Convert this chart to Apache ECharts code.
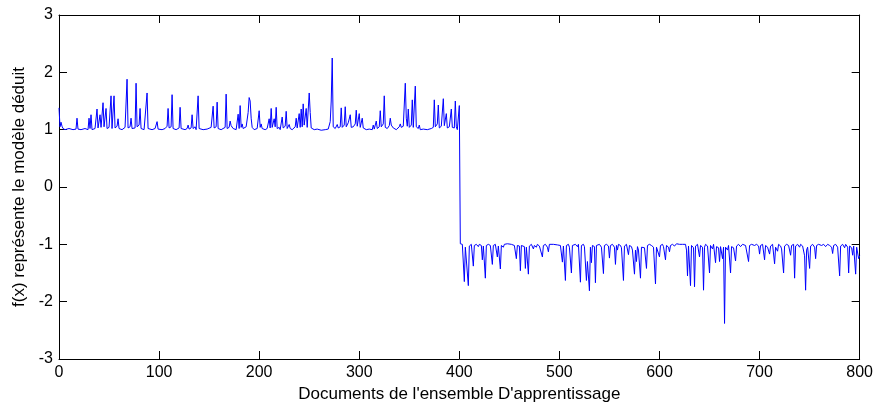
<!DOCTYPE html>
<html>
<head>
<meta charset="utf-8">
<script src="https://cdn.jsdelivr.net/npm/echarts@6/dist/echarts.min.js"></script>
<style>
html,body{margin:0;padding:0;background:#fff;}
#chart{width:876px;height:408px;}
</style>
</head>
<body>
<div id="chart"></div>
<script>
// Axis ticks
var xTicks = [0, 100, 200, 300, 400, 500, 600, 700, 800];
var yTicks = [-3, -2, -1, 0, 1, 2, 3];
var xTitle = "Documents de l'ensemble D'apprentissage";
var yTitle = "f(x) représente le modèle déduit";

// f(x) for documents 0..400 (class +1), as [document, value]
var upperPoints = [
[0,1.38],[1,1.05],[2,1.13],[3,1.06],[4,1.02],[6,1.0],[10,1.02],[14,1.0],[17,1.01],[18,1.2],[19,1.01],[22,1.0],[26,1.02],[29,1.0],[30,1.2],[31,1.02],[32,1.26],[33,1.0],[36,1.02],[38,1.36],[39,1.03],[40,1.05],[41,1.26],[42,1.04],[44,1.47],[45,1.05],[47,1.37],[48,1.02],[50,1.04],[52,1.59],[53,1.02],[55,1.59],[56,1.03],[58,1.06],[59,1.19],[60,1.02],[63,1.0],[66,1.04],[68,1.88],[69,1.03],[71,1.05],[72,1.2],[73,1.02],[76,1.03],[77,1.81],[78,1.05],[80,1.08],[81,1.37],[82,1.02],[85,1.0],[88,1.64],[89,1.02],[93,1.0],[96,1.02],[98,1.14],[99,1.01],[103,1.0],[106,1.02],[108,1.06],[109,1.37],[110,1.03],[112,1.05],[113,1.61],[114,1.02],[117,1.0],[120,1.03],[121,1.39],[122,1.02],[126,1.0],[128,1.02],[129,1.08],[130,1.01],[132,1.03],[133,1.26],[134,1.02],[136,1.05],[137,1.0],[139,1.59],[140,1.02],[144,1.0],[148,1.01],[152,1.04],[154,1.41],[155,1.03],[157,1.05],[158,1.48],[159,1.02],[162,1.0],[166,1.04],[167,1.62],[168,1.02],[170,1.04],[171,1.15],[172,1.07],[173,1.1],[174,1.02],[177,1.0],[179,1.27],[180,1.02],[181,1.42],[182,1.04],[183,1.1],[184,1.02],[187,1.05],[189,1.3],[190,1.56],[191,1.5],[192,1.2],[193,1.04],[195,1.0],[198,1.02],[200,1.33],[201,1.04],[202,1.1],[203,1.02],[206,1.0],[208,1.02],[210,1.19],[211,1.03],[212,1.37],[213,1.04],[215,1.19],[216,1.05],[217,1.39],[218,1.02],[220,1.04],[221,1.0],[223,1.22],[224,1.03],[226,1.06],[227,1.32],[228,1.02],[230,1.09],[231,1.02],[233,1.0],[236,1.05],[237,1.2],[238,1.03],[240,1.28],[241,1.04],[242,1.36],[243,1.05],[244,1.45],[245,1.08],[247,1.37],[248,1.04],[250,1.64],[251,1.3],[252,1.03],[255,1.0],[258,1.01],[262,0.99],[266,1.0],[269,1.01],[271,1.14],[272,1.5],[273,2.25],[274,1.05],[276,1.02],[278,1.09],[279,1.03],[281,1.05],[282,1.38],[283,1.04],[285,1.08],[286,1.4],[287,1.05],[289,1.12],[290,1.15],[291,1.26],[292,1.04],[294,1.05],[296,1.1],[297,1.34],[298,1.06],[300,1.28],[301,1.04],[303,1.2],[304,1.03],[307,1.0],[310,1.01],[313,1.0],[314,1.08],[315,1.01],[317,1.15],[318,1.02],[320,1.05],[321,1.33],[322,1.05],[324,1.1],[325,1.59],[326,1.04],[328,1.02],[330,1.07],[331,1.2],[332,1.08],[334,1.03],[337,1.0],[340,1.05],[341,1.1],[342,1.04],[344,1.06],[346,1.81],[347,1.2],[348,1.06],[349,1.36],[350,1.04],[352,1.08],[353,1.52],[354,1.04],[356,1.76],[357,1.05],[359,1.02],[360,1.08],[361,1.0],[364,1.01],[368,1.0],[372,1.02],[374,1.04],[375,1.52],[376,1.05],[378,1.1],[379,1.43],[380,1.03],[382,1.06],[384,1.54],[385,1.07],[387,1.28],[388,1.03],[390,1.05],[392,1.36],[393,1.04],[395,1.03],[396,1.5],[397,1.05],[398,1.0],[399,1.0],[400,1.42]
];

// f(x) for documents 401..800 (class -1), as [document, value]
var lowerPoints = [
[401,-0.99],[403,-1.0],[404,-1.02],[405,-1.65],[406,-1.05],[407,-1.02],[409,-1.72],[410,-1.03],[412,-1.0],[414,-1.38],[415,-1.02],[417,-1.0],[419,-1.04],[420,-1.0],[422,-1.02],[423,-1.27],[424,-1.03],[426,-1.59],[427,-1.02],[429,-1.0],[431,-1.02],[433,-1.35],[434,-1.02],[436,-1.0],[438,-1.22],[439,-1.03],[441,-1.43],[442,-1.02],[444,-1.05],[445,-1.0],[448,-0.99],[452,-1.0],[455,-1.02],[457,-1.25],[458,-1.02],[460,-1.03],[461,-1.46],[462,-1.02],[465,-1.04],[466,-1.42],[467,-1.05],[469,-1.52],[470,-1.03],[472,-1.0],[474,-1.08],[475,-1.02],[477,-1.05],[478,-1.0],[480,-1.03],[481,-1.05],[483,-1.22],[484,-1.02],[486,-1.0],[488,-1.05],[489,-1.13],[490,-1.0],[494,-1.0],[498,-1.01],[501,-1.02],[503,-1.31],[504,-1.03],[506,-1.63],[507,-1.02],[509,-1.0],[510,-1.05],[512,-1.5],[513,-1.02],[516,-1.0],[518,-1.04],[519,-1.0],[521,-1.66],[522,-1.02],[524,-1.0],[525,-1.04],[527,-1.63],[528,-1.3],[530,-1.81],[531,-1.05],[532,-1.32],[533,-1.02],[535,-1.04],[536,-1.67],[537,-1.02],[540,-1.0],[542,-1.05],[544,-1.51],[545,-1.02],[547,-1.0],[549,-1.03],[550,-1.24],[551,-1.02],[553,-1.0],[555,-1.05],[556,-1.35],[557,-1.02],[558,-1.1],[559,-1.0],[561,-1.02],[562,-1.06],[564,-1.63],[565,-1.03],[566,-1.05],[567,-1.0],[569,-1.18],[570,-1.02],[572,-1.04],[573,-1.1],[575,-1.52],[576,-1.1],[577,-1.3],[578,-1.04],[579,-1.1],[581,-1.59],[582,-1.05],[583,-1.02],[585,-1.06],[587,-1.42],[588,-1.02],[590,-1.0],[592,-1.02],[594,-1.05],[596,-1.69],[597,-1.05],[598,-1.02],[600,-1.22],[601,-1.02],[603,-1.0],[604,-1.04],[606,-1.27],[607,-1.02],[609,-1.05],[610,-1.13],[611,-1.02],[613,-1.0],[615,-1.03],[617,-0.99],[620,-1.0],[623,-1.0],[626,-1.0],[627,-1.1],[628,-1.55],[629,-1.03],[630,-1.05],[631,-1.72],[632,-1.02],[634,-1.06],[635,-1.74],[636,-1.03],[638,-1.0],[640,-1.22],[641,-1.02],[643,-1.05],[644,-1.8],[645,-1.05],[646,-1.0],[648,-1.03],[650,-1.5],[651,-1.02],[653,-1.08],[654,-1.0],[656,-1.32],[657,-1.04],[659,-1.06],[660,-1.3],[661,-1.04],[663,-1.25],[664,-1.05],[665,-2.38],[666,-1.05],[668,-1.1],[669,-1.02],[671,-1.5],[672,-1.04],[674,-1.06],[676,-1.29],[677,-1.03],[679,-1.0],[681,-1.04],[683,-1.0],[686,-1.02],[689,-1.3],[690,-1.02],[692,-1.0],[695,-1.02],[697,-1.0],[699,-1.03],[700,-1.17],[701,-1.02],[703,-1.0],[705,-1.27],[706,-1.02],[708,-1.05],[710,-1.17],[711,-1.03],[713,-1.0],[715,-1.34],[716,-1.05],[718,-1.12],[719,-1.0],[721,-1.03],[722,-1.08],[724,-1.5],[725,-1.03],[727,-1.0],[729,-1.02],[731,-1.19],[732,-1.02],[734,-1.0],[735,-1.59],[736,-1.03],[738,-1.0],[740,-1.05],[741,-1.0],[743,-1.03],[745,-1.2],[746,-1.8],[747,-1.1],[748,-1.05],[750,-1.42],[751,-1.03],[753,-1.0],[755,-1.05],[756,-1.25],[757,-1.02],[759,-1.0],[762,-1.02],[764,-1.0],[766,-1.04],[768,-1.0],[770,-1.02],[772,-1.05],[773,-1.16],[774,-1.02],[776,-1.0],[778,-1.05],[780,-1.55],[781,-1.03],[783,-1.0],[785,-1.06],[786,-1.0],[788,-1.05],[789,-1.5],[790,-1.03],[792,-1.06],[793,-1.19],[794,-1.03],[796,-1.52],[797,-1.05],[799,-1.25],[800,-1.2]
];

var seriesData = upperPoints.concat(lowerPoints);

var FONT = "'Liberation Sans', Arial, sans-serif";
var chart = echarts.init(document.getElementById('chart'), null, {renderer: 'canvas'});

function frameAxis(extra) {
  var base = {
    type: 'value',
    axisLine: {show: true, onZero: false, lineStyle: {color: '#000', width: 1}},
    axisTick: {show: true, inside: true, length: 8, lineStyle: {color: '#000', width: 1}},
    splitLine: {show: false},
    axisLabel: {show: false}
  };
  for (var k in extra) base[k] = extra[k];
  return base;
}

chart.setOption({
  animation: false,
  backgroundColor: '#fff',
  grid: {left: 59, right: 16, top: 15, bottom: 49, containLabel: false},
  xAxis: [
    frameAxis({
      position: 'bottom', min: xTicks[0], max: xTicks[xTicks.length - 1], interval: 100,
      axisLabel: {show: true, color: '#000', fontSize: 16, fontFamily: FONT, margin: 6},
      name: xTitle, nameLocation: 'middle', nameGap: 27,
      nameTextStyle: {color: '#000', fontSize: 17, fontFamily: FONT}
    }),
    frameAxis({position: 'top', min: xTicks[0], max: xTicks[xTicks.length - 1], interval: 100})
  ],
  yAxis: [
    frameAxis({
      position: 'left', min: yTicks[0], max: yTicks[yTicks.length - 1], interval: 1,
      axisLabel: {show: true, color: '#000', fontSize: 16, fontFamily: FONT, margin: 6},
      name: yTitle, nameLocation: 'middle', nameGap: 29, nameRotate: 90,
      nameTextStyle: {color: '#000', fontSize: 17, fontFamily: FONT}
    }),
    frameAxis({position: 'right', min: yTicks[0], max: yTicks[yTicks.length - 1], interval: 1})
  ],
  series: [{
    type: 'line',
    xAxisIndex: 0,
    yAxisIndex: 0,
    data: seriesData,
    showSymbol: false,
    symbol: 'none',
    sampling: null,
    lineStyle: {color: '#0000ff', width: 1},
    itemStyle: {color: '#0000ff'}
  }]
});
</script>
</body>
</html>
